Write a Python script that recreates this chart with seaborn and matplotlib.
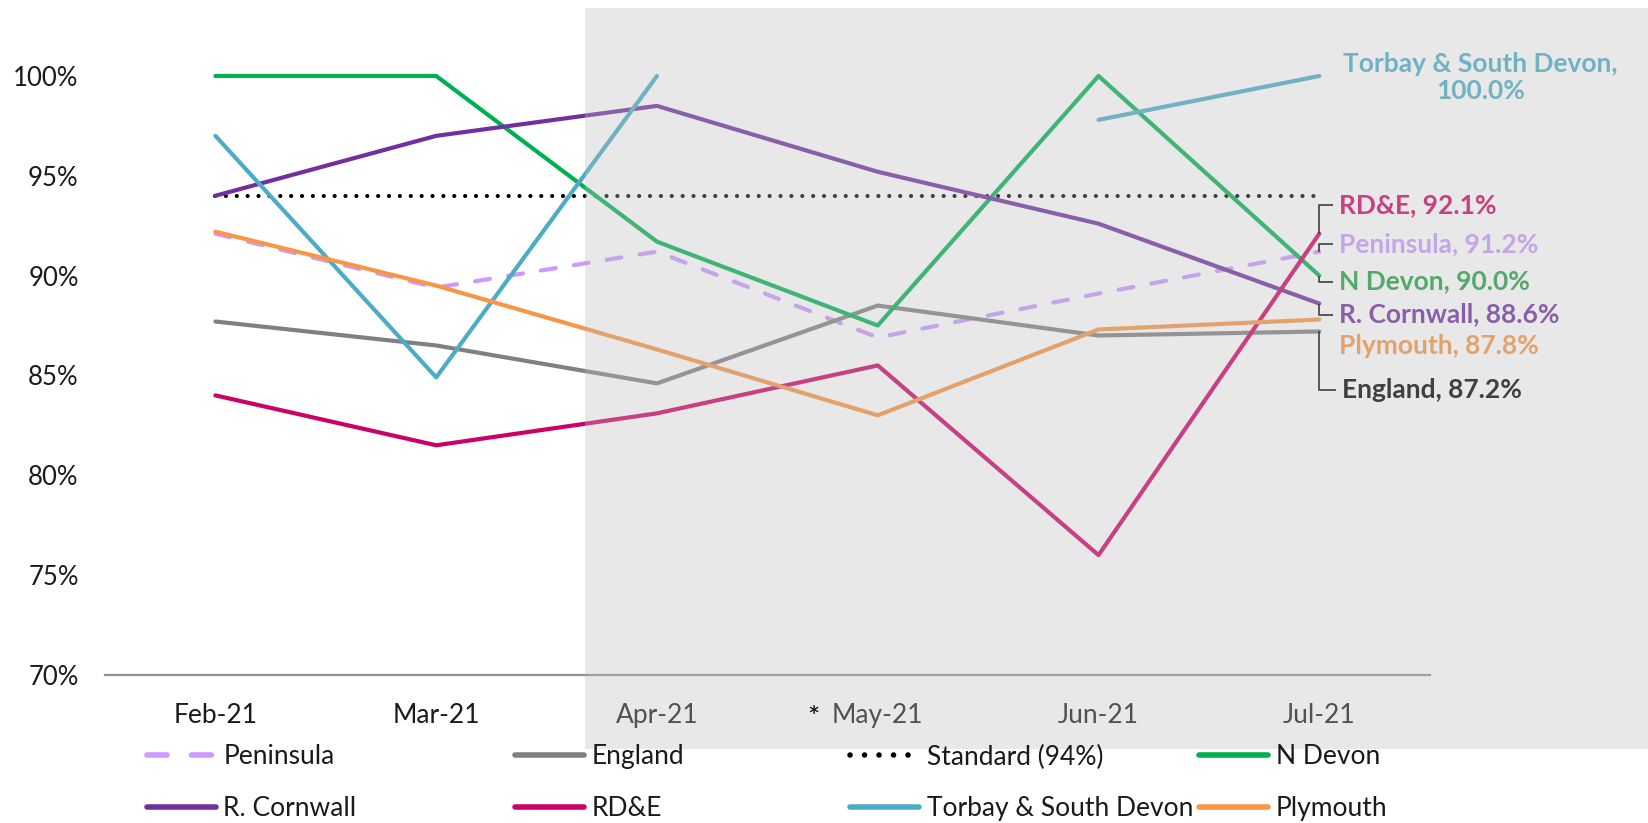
import numpy as np
import matplotlib
matplotlib.use("Agg")
import matplotlib.pyplot as plt
from matplotlib.patches import Rectangle
from matplotlib.lines import Line2D
import seaborn as sns

months = ["Feb-21", "Mar-21", "Apr-21", "May-21", "Jun-21", "Jul-21"]
peninsula = [92.1, 89.4, 91.2, 86.9, 89.1, 91.2]
england = [87.7, 86.5, 84.6, 88.5, 87.0, 87.2]
standard = [94, 94, 94, 94, 94, 94]
n_devon = [100, 100, 91.7, 87.5, 100, 90.0]
r_cornwall = [94.0, 97.0, 98.5, 95.2, 92.6, 88.6]
rde = [84.0, 81.5, 83.1, 85.5, 76.0, 92.1]
torbay = [97.0, 84.9, 100, np.nan, 97.8, 100]
plymouth = [92.2, 89.5, 86.3, 83.0, 87.3, 87.8]
yticks = [70, 75, 80, 85, 90, 95, 100]

series = [
    ("Peninsula", peninsula, "#CC99FF", (3.6, 4.4)),
    ("England", england, "#808080", None),
    ("Standard (94%)", standard, "#000000", (0.01, 2.6)),
    ("N Devon", n_devon, "#00B050", None),
    ("R. Cornwall", r_cornwall, "#7030A0", None),
    ("RD&E", rde, "#CC0066", None),
    ("Torbay & South Devon", torbay, "#4BACC6", None),
    ("Plymouth", plymouth, "#F79646", None),
]

sns.set_style("white")
plt.rcParams["font.family"] = ["Lato", "DejaVu Sans"]

fig = plt.figure(figsize=(16.49, 8.23), dpi=100)
ax = fig.add_axes([0.0637, 0.18, 0.8033, 0.7277])

x = np.arange(len(months))
handles = {}
for name, vals, color, dash in series:
    vals = np.asarray(vals, dtype=float)
    # split into runs so gaps stay gaps
    runs, cur = [], []
    for i, v in enumerate(vals):
        if np.isnan(v):
            if cur:
                runs.append(cur)
            cur = []
        else:
            cur.append(i)
    if cur:
        runs.append(cur)
    for r in runs:
        sns.lineplot(x=x[r], y=vals[r], ax=ax, color=color, linewidth=3,
                     legend=False)
        ln = ax.lines[-1]
        ln.set_clip_on(False)
        ln.set_solid_capstyle("round")
        if dash is not None:
            ln.set_dashes(dash)
            ln.set_dash_capstyle("round")
    h = Line2D([], [], color=color, linewidth=4)
    if dash is not None:
        h.set_dashes(dash)
        h.set_dash_capstyle("round")
    handles[name] = h

ax.set_xlim(-0.5, 5.5)
ax.set_ylim(70, 100)
ax.set_yticks(yticks)
ax.set_yticklabels([f"{t}%" for t in yticks])
ax.set_xticks(x)
ax.set_xticklabels(months)
ax.set_xlabel("")
ax.set_ylabel("")
for s in ["top", "right", "left"]:
    ax.spines[s].set_visible(False)
ax.spines["bottom"].set_color("#909090")
ax.spines["bottom"].set_linewidth(1.6)
ax.tick_params(axis="y", length=0, pad=19, labelsize=18.5, labelcolor="#1a1a1a")
ax.tick_params(axis="x", length=0, pad=20, labelsize=19, labelcolor="#1a1a1a")

# end-of-line labels
lab_kw = dict(fontsize=19, fontweight="bold", va="center", ha="left", clip_on=False)
end_labels = [
    ("RD&E", rde, "#CC0066", 93.55, True),
    ("Peninsula", peninsula, "#CC99FF", 91.6, True),
    ("N Devon", n_devon, "#1FA040", 89.7, True),
    ("R. Cornwall", r_cornwall, "#7030A0", 88.05, True),
    ("Plymouth", plymouth, "#F79646", 86.45, False),
    ("England", england, "#000000", 84.25, True),
]
for name, vals, color, ly, leader in end_labels:
    last = vals[-1]
    tx = 5.09 if name != "England" else 5.105
    if leader:
        hx = tx - 0.03
        ax.plot([5.0, 5.0, hx], [last, ly, ly], color="black", lw=1.2,
                clip_on=False, solid_capstyle="butt")
    ax.text(tx, ly, f"{name}, {last:.1f}%", color=color, **lab_kw)

ax.text(5.73, 99.9, f"Torbay & South Devon,\n{torbay[-1]:.1f}%", color="#4BACC6",
        fontsize=19, fontweight="bold", ha="center", va="center",
        multialignment="center", linespacing=1.15, clip_on=False)

# shaded overlay for the later months
fig.add_artist(Rectangle((0.355, 0.09), 0.645, 0.90, transform=fig.transFigure,
                         facecolor="#BCBCBC", alpha=0.34, edgecolor="none", zorder=1))
fig.text(0.4935, 0.126, "*", fontsize=21, ha="center", va="center", color="black", zorder=3)

# legend, four columns of two
cols = [("Peninsula", "R. Cornwall"), ("England", "RD&E"),
        ("Standard (94%)", "Torbay & South Devon"), ("N Devon", "Plymouth")]
col_x = [0.0891, 0.3123, 0.5155, 0.7271]
for names, cx in zip(cols, col_x):
    lg = fig.legend([handles[n] for n in names], list(names), loc="center left",
                    bbox_to_anchor=(cx, 0.049), frameon=False, fontsize=19,
                    handlelength=2.6, handletextpad=0.3, labelspacing=1.0,
                    borderpad=0, borderaxespad=0)
    for t in lg.get_texts():
        t.set_color("#1a1a1a")

fig.savefig("out.png", dpi=100)
